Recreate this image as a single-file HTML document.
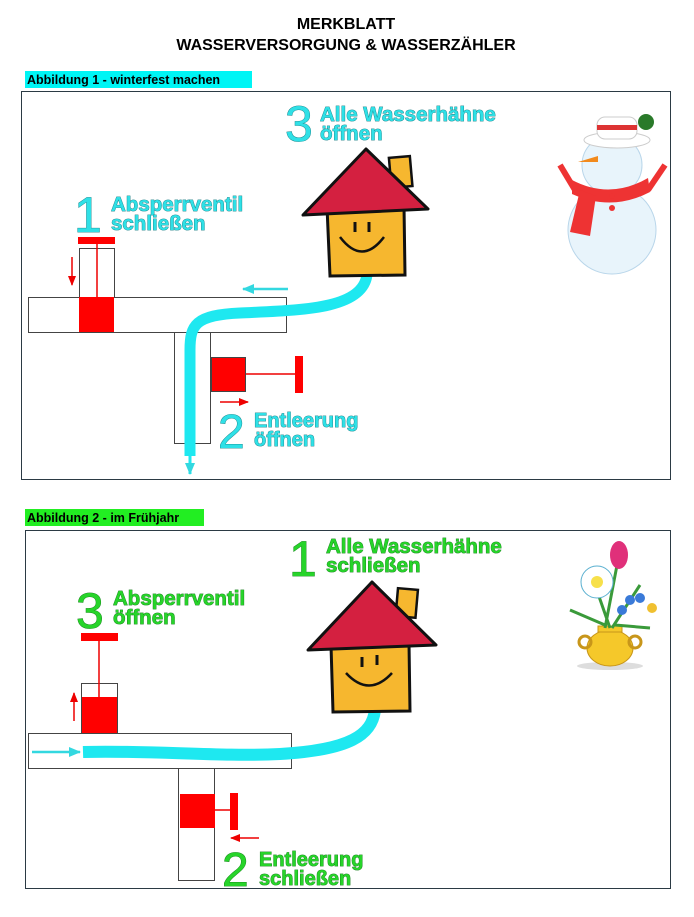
<!DOCTYPE html>
<html><head><meta charset="utf-8"><style>
html,body{margin:0;padding:0;background:#fff;}
svg{display:block;}
text{font-family:"Liberation Sans",Arial,sans-serif;font-weight:bold;}
.c{fill:#2fe0e6;stroke:#137a80;stroke-width:0.8px;paint-order:stroke;}
.g{fill:#27d42a;stroke:#137a18;stroke-width:0.8px;paint-order:stroke;}
.n{font-weight:normal;}
</style></head><body>
<svg width="694" height="917" viewBox="0 0 694 917" xmlns="http://www.w3.org/2000/svg">
<defs>
<marker id="ar" markerUnits="userSpaceOnUse" markerWidth="10" markerHeight="8" refX="9" refY="4" orient="auto"><path d="M0,0 L10,4 L0,8 z" fill="#e00"/></marker>
<marker id="ac" markerUnits="userSpaceOnUse" markerWidth="12" markerHeight="10" refX="11" refY="5" orient="auto"><path d="M0,0 L12,5 L0,10 z" fill="#33d8e0"/></marker>
</defs>
<text x="346" y="29" font-size="16" text-anchor="middle">MERKBLATT</text>
<text x="346" y="50" font-size="16" text-anchor="middle">WASSERVERSORGUNG &amp; WASSERZÄHLER</text>

<!-- Figure 1 -->
<rect x="25" y="71" width="227" height="17" fill="#00f5f5"/>
<text x="27" y="84" font-size="12.5">Abbildung 1 - winterfest machen</text>
<rect x="21.5" y="91.5" width="649" height="388" fill="none" stroke="#2b3a44" stroke-width="1"/>

<rect x="28.5" y="297.5" width="258" height="35" fill="#fff" stroke="#444" stroke-width="1"/>
<rect x="174.5" y="332.5" width="36" height="111" fill="#fff" stroke="#444" stroke-width="1"/>
<rect x="79.5" y="248.5" width="35" height="49" fill="#fff" stroke="#444"/>
<rect x="79" y="297" width="35" height="35" fill="#f00"/>
<rect x="78" y="237" width="37" height="7" fill="#f00"/>
<line x1="97" y1="244" x2="97" y2="297" stroke="#e00" stroke-width="1.5"/>
<line x1="72" y1="257" x2="72" y2="285" stroke="#e00" stroke-width="1.5" marker-end="url(#ar)"/>
<rect x="211.5" y="357.5" width="34" height="34" fill="#f00" stroke="#444"/>
<line x1="246" y1="374" x2="296" y2="374" stroke="#e00" stroke-width="1.5"/>
<rect x="295" y="356" width="8" height="37" fill="#f00"/>
<line x1="220" y1="402" x2="248" y2="402" stroke="#e00" stroke-width="1.5" marker-end="url(#ar)"/>
<line x1="288" y1="289" x2="243" y2="289" stroke="#33d8e0" stroke-width="2.5" marker-end="url(#ac)"/>
<path d="M367,275 C362,310 300,310 240,313 C195,315 190,325 190,350 L190,456" fill="none" stroke="#1ee8f0" stroke-width="11"/>
<line x1="190" y1="455" x2="190" y2="474" stroke="#1ee8f0" stroke-width="3" marker-end="url(#ac)"/>

<!-- house 1 -->
<rect x="390" y="157" width="21" height="30" fill="#f6b72f" stroke="#111" stroke-width="2.5" transform="rotate(-5 400 170)"/>
<path d="M327,207 L404,206 L405,275 L330,276 Z" fill="#f6b72f" stroke="#111" stroke-width="3"/>
<path d="M303,215 L366,149 L428,209 Z" fill="#d42040" stroke="#111" stroke-width="3" stroke-linejoin="round"/>
<line x1="355" y1="222" x2="355" y2="232" stroke="#111" stroke-width="3"/>
<line x1="369" y1="222" x2="369" y2="232" stroke="#111" stroke-width="3"/>
<path d="M340,237 Q362,266 384,237" fill="none" stroke="#111" stroke-width="2.5"/>

<!-- snowman -->
<circle cx="612" cy="230" r="44" fill="#e8f4fb" stroke="#b9d6ea"/>
<circle cx="612" cy="165" r="30" fill="#e8f4fb" stroke="#b9d6ea"/>
<path d="M572,180 Q610,200 648,178 L650,192 Q612,212 572,194 Z" fill="#e33"/>
<path d="M580,190 L570,232 L590,236 L596,196 Z" fill="#e33"/>
<circle cx="612" cy="196" r="3" fill="#e33"/><circle cx="612" cy="208" r="3" fill="#e33"/>
<ellipse cx="617" cy="140" rx="33" ry="8" fill="#fff" stroke="#ccc"/>
<rect x="597" y="117" width="40" height="22" rx="8" fill="#fff" stroke="#ccc"/>
<rect x="597" y="125" width="40" height="5" fill="#d33"/>
<path d="M598,156 L578,162 L598,162 Z" fill="#f28a1c"/>
<circle cx="646" cy="122" r="8" fill="#2a7a2a"/>
<path d="M560,165 L575,190" stroke="#e33" stroke-width="6"/>
<path d="M665,165 L648,190" stroke="#e33" stroke-width="6"/>

<text x="285" y="141" font-size="50" class="c n">3</text>
<text x="320" y="121" font-size="20.5" class="c">Alle Wasserhähne</text>
<text x="320" y="140" font-size="20.5" class="c">öffnen</text>
<text x="74" y="232" font-size="50" class="c n">1</text>
<text x="111" y="211" font-size="20.5" class="c">Absperrventil</text>
<text x="111" y="230" font-size="20.5" class="c">schließen</text>
<text x="218" y="448" font-size="48" class="c n">2</text>
<text x="254" y="427" font-size="20" class="c">Entleerung</text>
<text x="254" y="446" font-size="20" class="c">öffnen</text>

<!-- Figure 2 -->
<rect x="25" y="509" width="179" height="17" fill="#22ee22"/>
<text x="27" y="522" font-size="12.5">Abbildung 2 - im Frühjahr</text>
<rect x="25.5" y="530.5" width="645" height="358" fill="none" stroke="#2b3a44" stroke-width="1"/>

<rect x="28.5" y="733.5" width="263" height="35" fill="#fff" stroke="#444"/>
<rect x="178.5" y="768.5" width="36" height="112" fill="#fff" stroke="#444"/>
<rect x="81.5" y="683.5" width="36" height="50" fill="#fff" stroke="#444"/>
<rect x="82" y="697" width="35" height="36" fill="#f00"/>
<rect x="81" y="633" width="37" height="8" fill="#f00"/>
<line x1="99" y1="641" x2="99" y2="697" stroke="#e00" stroke-width="1.5"/>
<line x1="74" y1="721" x2="74" y2="693" stroke="#e00" stroke-width="1.5" marker-end="url(#ar)"/>
<rect x="180" y="794" width="35" height="34" fill="#f00"/>
<line x1="215" y1="810" x2="232" y2="810" stroke="#e00" stroke-width="1.5"/>
<rect x="230" y="793" width="8" height="37" fill="#f00"/>
<line x1="259" y1="838" x2="231" y2="838" stroke="#e00" stroke-width="1.5" marker-end="url(#ar)"/>
<line x1="32" y1="752" x2="80" y2="752" stroke="#33d8e0" stroke-width="2.5" marker-end="url(#ac)"/>
<path d="M83,752 C150,750 220,757 280,754 C350,750 372,735 375,710" fill="none" stroke="#1ee8f0" stroke-width="12"/>

<!-- house 2 -->
<rect x="397" y="589" width="20" height="28" fill="#f6b72f" stroke="#111" stroke-width="2.5" transform="rotate(5 407 600)"/>
<path d="M331,645 L409,643 L410,711 L333,712 Z" fill="#f6b72f" stroke="#111" stroke-width="3"/>
<path d="M308,650 L372,582 L436,645 Z" fill="#d42040" stroke="#111" stroke-width="3" stroke-linejoin="round"/>
<line x1="362" y1="657" x2="362" y2="667" stroke="#111" stroke-width="3"/>
<line x1="377" y1="655" x2="377" y2="665" stroke="#111" stroke-width="3"/>
<path d="M346,673 Q369,698 392,673" fill="none" stroke="#111" stroke-width="2.5"/>

<!-- flowers -->
<ellipse cx="610" cy="666" rx="33" ry="4" fill="#ddd"/>
<ellipse cx="610" cy="648" rx="23" ry="18" fill="#f5c82a" stroke="#c8961a"/>
<rect x="598" y="626" width="24" height="6" fill="#f5c82a" stroke="#c8961a"/>
<circle cx="585" cy="642" r="6" fill="none" stroke="#c8961a" stroke-width="3"/>
<circle cx="635" cy="642" r="6" fill="none" stroke="#c8961a" stroke-width="3"/>
<path d="M605,628 L618,560 M610,628 L595,585 M612,628 L640,585 M605,625 L570,610 M615,625 L650,628" stroke="#3a9a3a" stroke-width="3" fill="none"/>
<circle cx="597" cy="582" r="16" fill="#fff" stroke="#5ab0d0"/>
<circle cx="597" cy="582" r="6" fill="#f7e04a"/>
<ellipse cx="619" cy="555" rx="9" ry="14" fill="#e0307a"/>
<circle cx="630" cy="600" r="5" fill="#3a7ad8"/><circle cx="622" cy="610" r="5" fill="#3a7ad8"/><circle cx="640" cy="598" r="5" fill="#3a7ad8"/>
<circle cx="652" cy="608" r="5" fill="#f0c030"/>

<text x="289" y="576" font-size="50" class="g n">1</text>
<text x="326" y="553" font-size="20.5" class="g">Alle Wasserhähne</text>
<text x="326" y="572" font-size="20.5" class="g">schließen</text>
<text x="76" y="628" font-size="50" class="g n">3</text>
<text x="113" y="605" font-size="20.5" class="g">Absperrventil</text>
<text x="113" y="624" font-size="20.5" class="g">öffnen</text>
<text x="222" y="886" font-size="48" class="g n">2</text>
<text x="259" y="866" font-size="20" class="g">Entleerung</text>
<text x="259" y="885" font-size="20" class="g">schließen</text>
</svg>
</body></html>
